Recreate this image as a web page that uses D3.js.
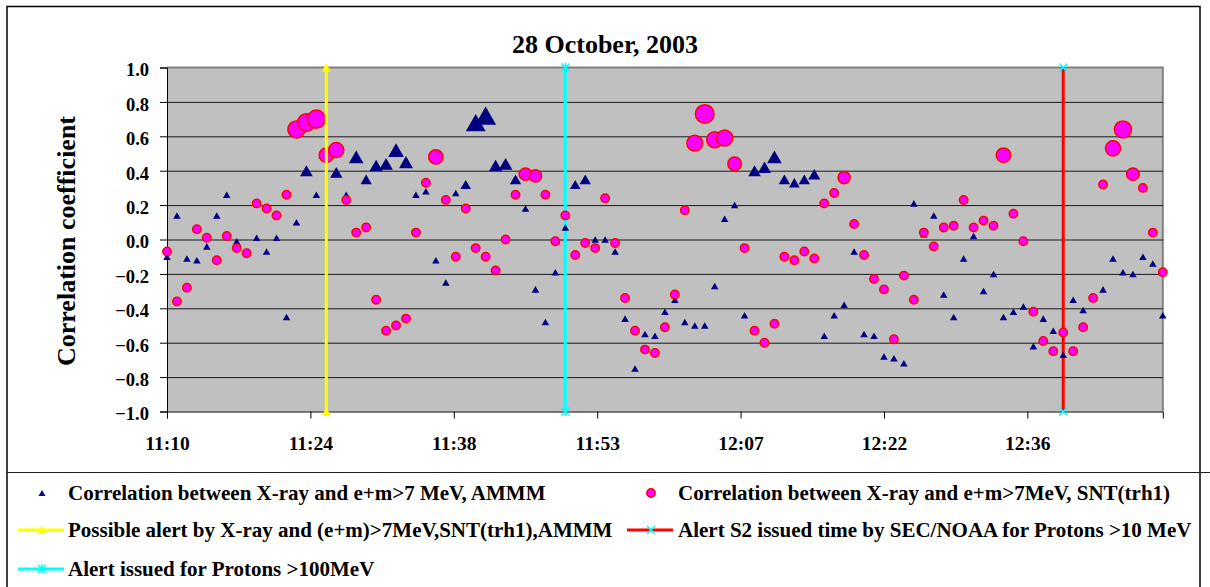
<!DOCTYPE html>
<html>
<head>
<meta charset="utf-8">
<script src="https://cdn.jsdelivr.net/npm/d3@7"></script>
<style>
  body { margin: 0; background: #fff; }
  svg text { font-family: "Liberation Serif", "Times New Roman", serif; font-weight: bold; fill: #000; }
</style>
</head>
<body>
<svg id="chart" width="1210" height="587"></svg>
<script>
// one sample per minute, first sample at 11:09:36
const startTime = '2003-10-28T11:09:36';
// Correlation between X-ray and e+m>7 MeV, AMMM (triangles)
const ammm = [
  -0.10, 0.14, -0.11, -0.12, -0.04, 0.14, 0.26, -0.01, -0.08, 0.01,
  -0.07, 0.01, -0.45, 0.10, 0.40, 0.26, 0.51, 0.39, 0.26, 0.48,
  0.35, 0.43, 0.44, 0.52, 0.45, 0.26, 0.28, -0.12, -0.25, 0.27,
  0.32, 0.68, 0.72, 0.43, 0.44, 0.35, 0.18, -0.29, -0.48, -0.19,
  0.07, 0.32, 0.35, 0.00, 0.00, -0.07, -0.46, -0.75, -0.55, -0.56,
  -0.42, -0.35, -0.48, -0.50, -0.50, -0.27, 0.12, 0.20, -0.44, 0.40,
  0.42, 0.48, 0.35, 0.33, 0.35, 0.38, -0.56, -0.44, -0.38, -0.07,
  -0.55, -0.56, -0.68, -0.69, -0.72, 0.21, 0.03, 0.14, -0.32, -0.45,
  -0.11, 0.02, -0.30, -0.20, -0.45, -0.42, -0.39, -0.62, -0.46, -0.53,
  -0.67, -0.35, -0.41, -0.34, -0.29, -0.11, -0.19, -0.20, -0.10, -0.14,
  -0.44
];
// Correlation between X-ray and e+m>7MeV, SNT(trh1) (circles)
const snt = [
  -0.07, -0.36, -0.28, 0.06, 0.01, -0.12, 0.02, -0.05, -0.08, 0.21,
  0.18, 0.14, 0.26, 0.64, 0.68, 0.70, 0.49, 0.52, 0.23, 0.04,
  0.07, -0.35, -0.53, -0.50, -0.46, 0.04, 0.33, 0.48, 0.23, -0.10,
  0.18, -0.05, -0.10, -0.18, 0.00, 0.26, 0.38, 0.37, 0.26, -0.01,
  0.14, -0.09, -0.02, -0.05, 0.24, -0.02, -0.34, -0.53, -0.64, -0.66,
  -0.51, -0.32, 0.17, 0.56, 0.73, 0.58, 0.59, 0.44, -0.05, -0.53,
  -0.60, -0.49, -0.10, -0.12, -0.07, -0.11, 0.21, 0.27, 0.36, 0.09,
  -0.09, -0.23, -0.29, -0.58, -0.21, -0.35, 0.04, -0.04, 0.07, 0.08,
  0.23, 0.07, 0.11, 0.08, 0.49, 0.15, -0.01, -0.42, -0.59, -0.65,
  -0.54, -0.65, -0.51, -0.34, 0.32, 0.53, 0.64, 0.38, 0.30, 0.04,
  -0.19
];
// alert times (vertical lines from -1 to 1)
const alertYellow = '2003-10-28T11:25:36';
const alertCyan = '2003-10-28T11:49:36';
const alertRed = '2003-10-28T12:39:36';
// x axis: major unit 0.01 day (14.4 min)
const tickTimes = ['11:09:36', '11:24:00', '11:38:24', '11:52:48', '12:07:12', '12:21:36', '12:36:00'];
const tickLabels = ['11:10', '11:24', '11:38', '11:53', '12:07', '12:22', '12:36'];
const yTicks = [-1.0, -0.8, -0.6, -0.4, -0.2, 0.0, 0.2, 0.4, 0.6, 0.8, 1.0];

const legendItems = [
  'Correlation between X-ray and e+m>7 MeV, AMMM',
  'Correlation between X-ray and e+m>7MeV, SNT(trh1)',
  'Possible alert by X-ray and (e+m)>7MeV,SNT(trh1),AMMM',
  'Alert S2 issued time by SEC/NOAA for Protons >10 MeV',
  'Alert issued for Protons >100MeV'
];

const svg = d3.select('#chart');
const pLeft = 167, pRight = 1162.8, pTop = 67.5, pBottom = 411.5;

const t0 = new Date(startTime);
const times = ammm.map((d, i) => d3.timeMinute.offset(t0, i));

const x = d3.scaleTime()
  .domain([t0, times[times.length - 1]])
  .range([pLeft, pRight]);
const y = d3.scaleLinear().domain([-1, 1]).range([pBottom, pTop]);

// marker sizes grow for the strong correlations
const triW = v => v < 0.3 ? 7.5 : 10 + (v - 0.3) * 26;
const circR = v => v < 0.35 ? 4.2 : 6 + (v - 0.35) * 8.7;

function triPath(w) {
  const h = w * 0.87;
  return 'M0,' + (-h / 2) + 'L' + (w / 2) + ',' + (h / 2) + 'L' + (-w / 2) + ',' + (h / 2) + 'Z';
}

// outer frame
svg.append('rect').attr('x', 7).attr('y', 6.5).attr('width', 1193).attr('height', 600)
  .attr('fill', 'none').attr('stroke', '#000').attr('stroke-width', 1.5);
svg.append('line').attr('x1', 7).attr('x2', 1210).attr('y1', 472.5).attr('y2', 472.5)
  .attr('stroke', '#222').attr('stroke-width', 1);

// plot area
svg.append('rect').attr('x', pLeft).attr('y', pTop).attr('width', pRight - pLeft).attr('height', pBottom - pTop)
  .attr('fill', '#c0c0c0');
svg.append('path')
  .attr('d', 'M' + pLeft + ',' + pTop + 'H' + pRight + 'V' + pBottom)
  .attr('fill', 'none').attr('stroke', '#808080').attr('stroke-width', 2);

// gridlines
svg.append('g')
  .attr('transform', 'translate(' + pLeft + ',0)')
  .call(d3.axisLeft(y).tickValues(yTicks.slice(1, -1)).tickSize(-(pRight - pLeft)).tickFormat(''))
  .call(g => g.select('.domain').remove())
  .call(g => g.selectAll('line').attr('stroke', '#1a1a1a'));

// axes
const tickDates = tickTimes.map(t => new Date('2003-10-28T' + t));
const xAxis = svg.append('g')
  .attr('transform', 'translate(0,' + pBottom + ')')
  .call(d3.axisBottom(x).tickValues(tickDates).tickSize(7).tickPadding(18)
    .tickFormat((d, i) => tickLabels[i]));
xAxis.selectAll('text').attr('font-size', 19.5).attr('dy', '0.71em');
xAxis.selectAll('line, path').attr('stroke', '#000');

const yAxis = svg.append('g')
  .attr('transform', 'translate(' + pLeft + ',0)')
  .call(d3.axisLeft(y).tickValues(yTicks).tickSize(7).tickPadding(11).tickFormat(d3.format('.1f')));
yAxis.selectAll('text').attr('font-size', 18.5).attr('dy', '0.45em');
yAxis.selectAll('line, path').attr('stroke', '#000');

// alert lines (red and cyan below markers)
function alertLine(time, color) {
  const xx = x(new Date(time));
  svg.append('line').attr('x1', xx).attr('x2', xx).attr('y1', y(-1)).attr('y2', y(1))
    .attr('stroke', color).attr('stroke-width', 3);
  return xx;
}
function asterisk(g, cx, cy, s, color) {
  g.append('path')
    .attr('d', 'M' + (cx - s) + ',' + (cy - s) + 'L' + (cx + s) + ',' + (cy + s) +
      'M' + (cx - s) + ',' + (cy + s) + 'L' + (cx + s) + ',' + (cy - s) +
      'M' + cx + ',' + (cy - s * 1.2) + 'L' + cx + ',' + (cy + s * 1.2))
    .attr('stroke', color).attr('stroke-width', 1.6).attr('fill', 'none');
}
function cross(g, cx, cy, s, color) {
  g.append('path')
    .attr('d', 'M' + (cx - s) + ',' + (cy - s) + 'L' + (cx + s) + ',' + (cy + s) +
      'M' + (cx - s) + ',' + (cy + s) + 'L' + (cx + s) + ',' + (cy - s))
    .attr('stroke', color).attr('stroke-width', 1.6).attr('fill', 'none');
}

const xRed = alertLine(alertRed, '#ff0000');
const xCyan = alertLine(alertCyan, '#00ffff');

// triangles
svg.append('g').selectAll('path')
  .data(ammm)
  .join('path')
  .attr('transform', (d, i) => 'translate(' + x(times[i]) + ',' + y(d) + ')')
  .attr('d', d => triPath(triW(d)))
  .attr('fill', '#000080');

// circles
svg.append('g').selectAll('circle')
  .data(snt)
  .join('circle')
  .attr('cx', (d, i) => x(times[i]))
  .attr('cy', d => y(d))
  .attr('r', d => circR(d))
  .attr('fill', '#ff00ff')
  .attr('stroke', '#ff0000')
  .attr('stroke-width', 1.5);

// yellow alert on top
const xYellow = alertLine(alertYellow, '#ffff00');
const endMarks = svg.append('g');
[-1, 1].forEach(v => {
  endMarks.append('path').attr('transform', 'translate(' + xYellow + ',' + y(v) + ')')
    .attr('d', triPath(9)).attr('fill', '#ffff00');
  asterisk(endMarks, xCyan, y(v), 4, '#00ffff');
  cross(endMarks, xRed, y(v), 4, '#00ffff');
});

// title and axis title
svg.append('text').attr('x', 605).attr('y', 53).attr('text-anchor', 'middle')
  .attr('font-size', 26).text('28 October, 2003');
svg.append('text')
  .attr('transform', 'translate(75,241) rotate(-90)')
  .attr('text-anchor', 'middle').attr('font-size', 26).text('Correlation coefficient');

// legend
const lg = svg.append('g').attr('font-size', 21);
const rows = [499.5, 536.5, 575.5];
const cols = [{ mark: 42, text: 68 }, { mark: 651, text: 678 }];
const pos = [[0, 0], [1, 0], [0, 1], [1, 1], [0, 2]];
legendItems.forEach((label, i) => {
  const c = cols[pos[i][0]], yy = rows[pos[i][1]] - 6.5;
  lg.append('text').attr('x', c.text).attr('y', rows[pos[i][1]]).text(label);
  if (i === 0) {
    lg.append('path').attr('transform', 'translate(' + c.mark + ',' + yy + ')')
      .attr('d', triPath(7)).attr('fill', '#000080');
  } else if (i === 1) {
    lg.append('circle').attr('cx', c.mark).attr('cy', yy).attr('r', 4.2)
      .attr('fill', '#ff00ff').attr('stroke', '#ff0000').attr('stroke-width', 1.5);
  } else {
    const color = i === 2 ? '#ffff00' : i === 3 ? '#ff0000' : '#00ffff';
    lg.append('line').attr('x1', c.mark - 24).attr('x2', c.mark + 22).attr('y1', yy).attr('y2', yy)
      .attr('stroke', color).attr('stroke-width', 3);
    if (i === 2) {
      lg.append('path').attr('transform', 'translate(' + c.mark + ',' + yy + ')')
        .attr('d', triPath(9)).attr('fill', '#ffff00');
    } else if (i === 3) {
      cross(lg, c.mark, yy, 4, '#00ffff');
    } else {
      asterisk(lg, c.mark, yy, 4, '#00ffff');
    }
  }
});
</script>
</body>
</html>
